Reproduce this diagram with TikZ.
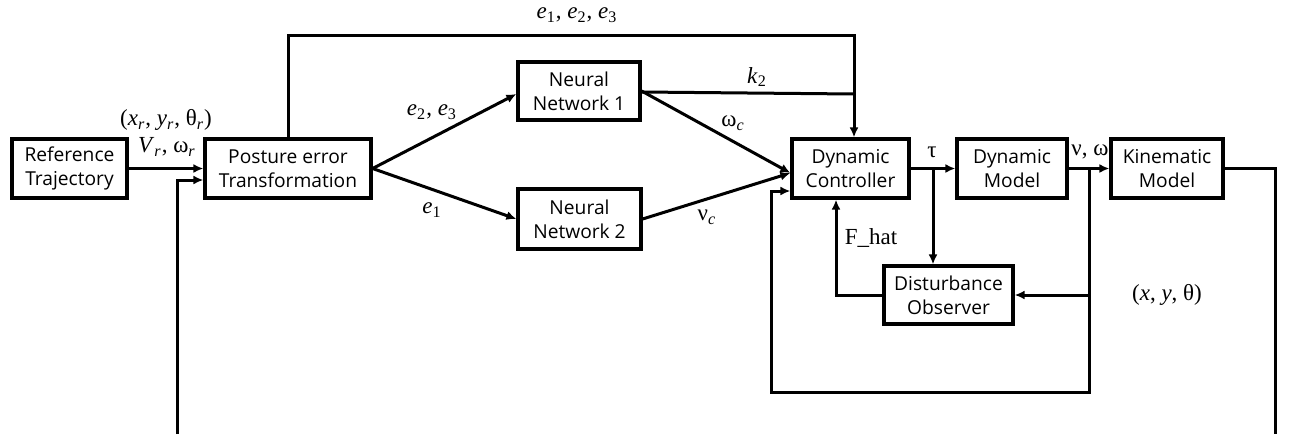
\documentclass[tikz,border=0pt]{standalone}
\usepackage{fontspec}
\setmainfont{Liberation Serif}
\newfontfamily\boxfont{Open Sans}
\usetikzlibrary{arrows.meta,calc}
\newcommand\sbi[2]{\textit{#1}\textsubscript{\textit{#2}}}
\newcommand\sbn[2]{\textit{#1}\textsubscript{#2}}
\begin{document}
\begin{tikzpicture}[x=0.5pt,y=-0.5pt,
  blk/.style={draw,line width=1.6pt,minimum height=29.5pt,align=center,
    font=\boxfont\fontsize{9.6}{12}\selectfont,inner sep=0pt},
  arr/.style={line width=1.5pt,-{Latex[length=5pt,width=4.5pt]}},
  ln/.style={line width=1.5pt},
  lbl/.style={font=\fontsize{11.5}{13}\selectfont,inner sep=0pt}]
\useasboundingbox (0,0) rectangle (1300,434);

\node[blk,minimum width=57.5pt] (ref) at (69.5,168.5) {Reference\\Trajectory};
\node[blk,minimum width=83pt] (pet) at (288,168.5) {Posture error\\Transformation};
\node[blk,minimum width=61pt,minimum height=29pt] (nn1) at (579,91) {Neural\\Network 1};
\node[blk,minimum width=61.5pt,minimum height=30pt] (nn2) at (579.5,219) {Neural\\Network 2};
\node[blk,minimum width=58.5pt] (dc) at (850.5,168.5) {Dynamic\\Controller};
\node[blk,minimum width=55pt] (dm) at (1012,168.5) {Dynamic\\Model};
\node[blk,minimum width=56pt] (km) at (1167,168.5) {Kinematic\\Model};
\node[blk,minimum width=64.5pt,minimum height=29pt] (do) at (948.5,295) {Disturbance\\Observer};

\coordinate (top1) at (288,35);
\coordinate (top2) at (854,35);
\coordinate (k2j) at (854,94);
\coordinate (tb) at (933,168.5);
\coordinate (vb) at (1089,168.5);
\coordinate (vbo) at (1089,295);
\coordinate (vbb) at (1089,392);
\coordinate (lb) at (771,392);
\coordinate (lt) at (771,191);
\coordinate (fr1) at (1275,168.5);
\coordinate (fr2) at (1275,434);
\coordinate (fl1) at (177,434);
\coordinate (fl2) at (177,180);
\coordinate (fh) at (836,295);
\coordinate (cin) at ($(dc.west)+(0,4.5)$);

\draw[arr] (ref) -- (pet);
\draw[arr] (fl1) -- (fl2) -- (fl2 -| pet.west);
\draw[arr] (pet.north) -- (top1) -- (top2) -- (top2 |- dc.north);
\draw[arr] (pet.east) -- ($(nn1.west)+(0,3)$);
\draw[arr] (pet.east) -- (nn2.west);
\draw[arr] (nn1.east) -- (cin);
\draw[arr] (nn2.east) -- (cin);
\draw[ln] ($(nn1.east)+(0,1)$) -- (k2j);
\draw[arr] (dc) -- (dm);
\draw[arr] (tb) -- (tb |- do.north);
\draw[arr] (do.west) -- (fh) -- (fh |- dc.south);
\draw[arr] (dm) -- (km);
\draw[arr] (vb) -- (vbb) -- (lb) -- (lt) -- (lt -| dc.west);
\draw[arr] (vbo) -- (do.east);
\draw[ln] (km.east) -- (fr1) -- (fr2);

\node[lbl] (la) at (577,15) {\sbn{e}{1}, \sbn{e}{2}, \sbn{e}{3}};
\node[lbl] (lb1) at (166,120) {(\sbi{x}{r}, \sbi{y}{r}, θ\textsubscript{\textit{r}})};
\node[lbl] (lb2) at (167,147) {\sbi{V}{r}, ω\textsubscript{\textit{r}}};
\node[lbl] (lc) at (432,112) {\sbn{e}{2}, \sbn{e}{3}};
\node[lbl] (ld) at (432,210) {\sbn{e}{1}};
\node[lbl] (le) at (757,77) {\sbn{k}{2}};
\node[lbl] (lf) at (733,123) {ω\textsubscript{\textit{c}}};
\node[lbl] (lg) at (707,217) {ν\textsubscript{\textit{c}}};
\node[lbl] (lh) at (932,152) {τ};
\node[lbl] (li) at (1090,152) {ν, ω};
\node[lbl] (lj) at (871,238) {F\_hat};
\node[lbl] (lk) at (1167,295) {(\textit{x}, \textit{y}, θ)};
\end{tikzpicture}
\end{document}
